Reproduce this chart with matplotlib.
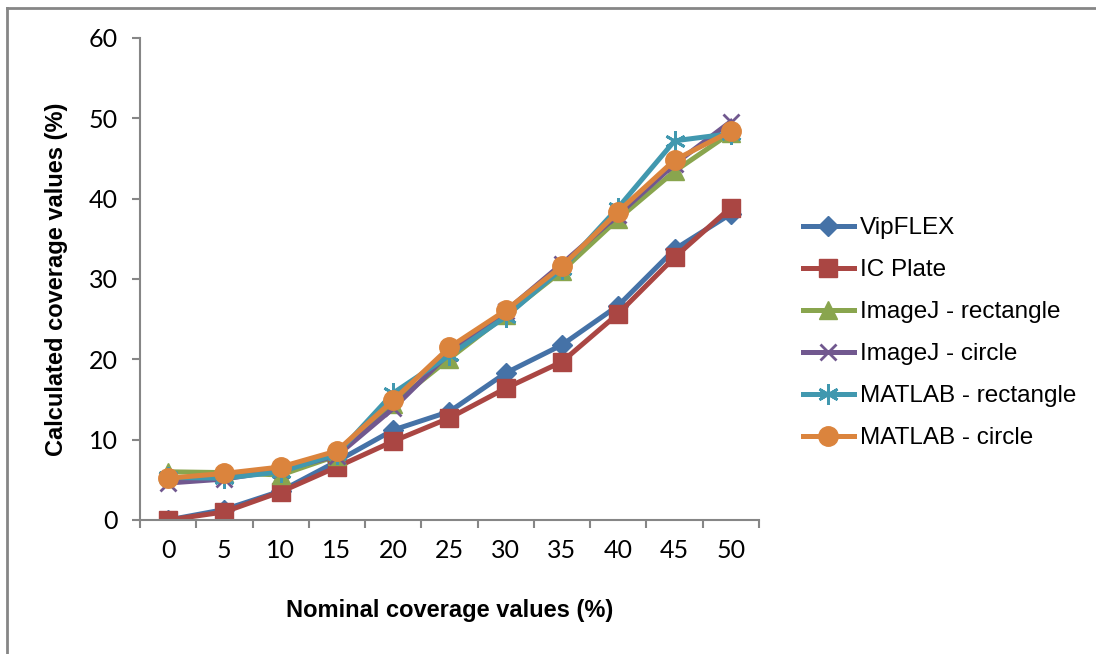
import matplotlib.pyplot as plt
from matplotlib.lines import Line2D

# nominal coverage (%)
nominal = [0, 5, 10, 15, 20, 25, 30, 35, 40, 45, 50]

# calculated coverage (%)
vipflex = [0.0, 1.3, 3.6, 7.3, 11.2, 13.5, 18.3, 21.8, 26.7, 33.7, 38.1]
ic_plate = [0.0, 1.0, 3.5, 6.6, 9.8, 12.7, 16.4, 19.7, 25.7, 32.7, 38.9]
imagej_rect = [6.0, 5.9, 5.6, 8.0, 14.5, 20.1, 25.5, 31.0, 37.5, 43.4, 48.2]
imagej_circle = [4.6, 5.1, 6.2, 8.0, 13.9, 20.8, 26.0, 31.9, 38.0, 44.3, 49.6]
matlab_rect = [5.3, 5.2, 6.0, 8.2, 15.8, 20.5, 25.3, 31.3, 38.9, 47.2, 48.1]
matlab_circle = [5.2, 5.8, 6.6, 8.6, 14.9, 21.5, 26.1, 31.6, 38.4, 44.8, 48.4]

series = [
    ('VipFLEX', vipflex, '#4572A7', 'D', 10),
    ('IC Plate', ic_plate, '#AA4643', 's', 13),
    ('ImageJ - rectangle', imagej_rect, '#89A54E', '^', 13),
    ('ImageJ - circle', imagej_circle, '#71588F', 'x', 12),
    ('MATLAB - rectangle', matlab_rect, '#4198AF', (6, 2, 0), 15),
    ('MATLAB - circle', matlab_circle, '#DB843D', 'o', 14),
]

fig = plt.figure(figsize=(10.96, 6.54), dpi=100)
ax = fig.add_axes([0.1277, 0.2049, 0.5648, 0.737])

x = list(range(len(nominal)))
for name, vals, color, marker, ms in series:
    mew = 2 if marker in ('x', (6, 2, 0)) else 1
    ax.plot(x, vals, color=color, linewidth=3.6, marker=marker, markersize=ms,
            markeredgewidth=mew, markeredgecolor=color, label=name)

ax.set_xlim(-0.5, len(nominal) - 0.5)
ax.set_ylim(0, 60)
ax.set_yticks(range(0, 61, 10))

# categorical axis: tick marks between categories, labels at centres
ax.set_xticks([i - 0.5 for i in range(len(nominal) + 1)])
ax.set_xticklabels([])
ax.set_xticks(x, minor=True)
ax.set_xticklabels([str(n) for n in nominal], minor=True)
ax.tick_params(axis='x', which='minor', length=0, pad=14)
ax.tick_params(axis='x', which='major', length=6, color='#868686', width=1.5)
ax.tick_params(axis='y', length=6, color='#868686', width=1.5, pad=10)

for lab in ax.get_xticklabels(minor=True) + ax.get_yticklabels():
    lab.set_fontsize(18)
    lab.set_family('Lato')

for side in ['top', 'right']:
    ax.spines[side].set_visible(False)
for side in ['left', 'bottom']:
    ax.spines[side].set_color('#868686')
    ax.spines[side].set_linewidth(1.5)

ax.set_xlabel('Nominal coverage values (%)', fontsize=17, fontweight='bold',
              family='Liberation Sans', labelpad=26)
ax.set_ylabel('Calculated coverage values (%)', fontsize=17, fontweight='bold',
              family='Liberation Sans', labelpad=15)

leg = ax.legend(loc='upper left', bbox_to_anchor=(1.035, 0.673), frameon=False,
                prop={'family': 'Liberation Sans', 'size': 17.5},
                handlelength=2.1, handletextpad=0.25, labelspacing=0.82)

# grey frame: only the top and left edges fall inside the picture
fig.lines.append(Line2D([0.0065, 1.0], [0.988, 0.988], transform=fig.transFigure,
                        color='#868686', linewidth=2))
fig.lines.append(Line2D([0.0065, 0.0065], [0.0, 0.988], transform=fig.transFigure,
                        color='#868686', linewidth=2))

fig.savefig('out.png', dpi=100)
